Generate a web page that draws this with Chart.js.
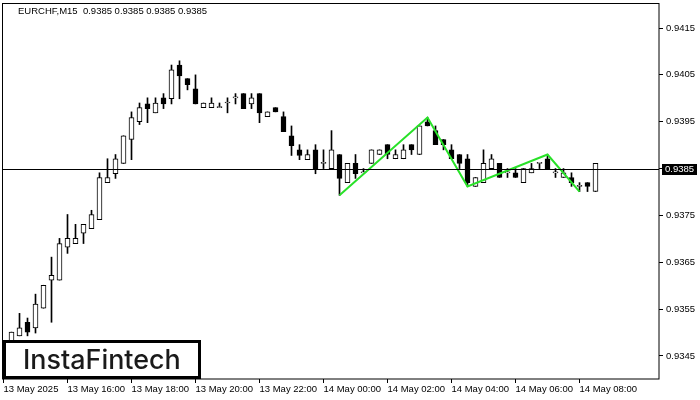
<!DOCTYPE html>
<html>
<head>
<meta charset="utf-8">
<script src="https://cdn.jsdelivr.net/npm/chart.js@4.4.1/dist/chart.umd.min.js"></script>
<style>
  html, body { margin: 0; padding: 0; background: #fff; }
  #wrap { width: 700px; height: 400px; }
</style>
</head>
<body>
<div id="wrap"><canvas id="chart"></canvas></div>
<script>
// EURCHF M15 - bar index 0 = 13 May 14:00, one bar per 15 minutes
var symbol = 'EURCHF,M15';
var lastPrice = 0.9385;
var firstBar = 1; // first visible candle is 14:15

var opens = [
  0.93480, 0.93493, 0.93522, 0.93510, 0.93552, 0.93612, 0.93612, 0.93682, 0.93690, 0.93712,
  0.93722, 0.93741, 0.93820, 0.93839, 0.93861, 0.93912, 0.93950, 0.93988, 0.93969, 0.94001,
  0.93999, 0.94071, 0.94042, 0.94020, 0.93980, 0.93980, 0.93980, 0.93990, 0.94001, 0.94010,
  0.93988, 0.94010, 0.93961, 0.93980, 0.93961, 0.93920, 0.93890, 0.93869, 0.93890, 0.93861,
  0.93850, 0.93880, 0.93820, 0.93861, 0.93841, 0.93861, 0.93880, 0.93901, 0.93871, 0.93871,
  0.93901, 0.93880, 0.93950, 0.93931, 0.93912, 0.93890, 0.93880, 0.93871, 0.93812, 0.93820,
  0.93850, 0.93861, 0.93841, 0.93841, 0.93820, 0.93841, 0.93861, 0.93871, 0.93841, 0.93831,
  0.93831, 0.93812, 0.93820, 0.93801
];
var highs = [
  0.93501, 0.93541, 0.93531, 0.93582, 0.93601, 0.93661, 0.93701, 0.93752, 0.93731, 0.93731,
  0.93761, 0.93841, 0.93871, 0.93880, 0.93920, 0.93971, 0.93990, 0.94001, 0.94001, 0.94010,
  0.94071, 0.94080, 0.94042, 0.94050, 0.93990, 0.94001, 0.93990, 0.94001, 0.94010, 0.94010,
  0.94010, 0.94010, 0.93971, 0.93980, 0.93971, 0.93941, 0.93901, 0.93890, 0.93901, 0.93890,
  0.93931, 0.93880, 0.93861, 0.93880, 0.93850, 0.93890, 0.93890, 0.93901, 0.93890, 0.93901,
  0.93901, 0.93941, 0.93959, 0.93941, 0.93912, 0.93901, 0.93880, 0.93880, 0.93831, 0.93890,
  0.93880, 0.93861, 0.93850, 0.93850, 0.93850, 0.93861, 0.93861, 0.93880, 0.93850, 0.93850,
  0.93841, 0.93820, 0.93820, 0.93861
];
var lows = [
  0.93480, 0.93493, 0.93493, 0.93499, 0.93552, 0.93522, 0.93612, 0.93669, 0.93690, 0.93690,
  0.93722, 0.93741, 0.93820, 0.93829, 0.93861, 0.93869, 0.93944, 0.93948, 0.93969, 0.93978,
  0.93988, 0.93999, 0.94018, 0.93988, 0.93980, 0.93980, 0.93980, 0.93969, 0.93988, 0.93978,
  0.93978, 0.93948, 0.93961, 0.93971, 0.93929, 0.93878, 0.93869, 0.93869, 0.93839, 0.93850,
  0.93850, 0.93793, 0.93820, 0.93829, 0.93841, 0.93861, 0.93880, 0.93871, 0.93871, 0.93871,
  0.93880, 0.93880, 0.93941, 0.93901, 0.93890, 0.93871, 0.93850, 0.93812, 0.93812, 0.93820,
  0.93850, 0.93831, 0.93831, 0.93831, 0.93820, 0.93841, 0.93850, 0.93850, 0.93831, 0.93831,
  0.93812, 0.93801, 0.93801, 0.93801
];
var closes = [
  0.93501, 0.93510, 0.93501, 0.93561, 0.93601, 0.93622, 0.93690, 0.93701, 0.93701, 0.93731,
  0.93752, 0.93831, 0.93831, 0.93871, 0.93920, 0.93959, 0.93980, 0.93978, 0.93990, 0.93988,
  0.94061, 0.94048, 0.94029, 0.93988, 0.93990, 0.93990, 0.93980, 0.93990, 0.94001, 0.93978,
  0.94001, 0.93969, 0.93971, 0.93971, 0.93929, 0.93899, 0.93878, 0.93880, 0.93850, 0.93861,
  0.93890, 0.93829, 0.93861, 0.93839, 0.93841, 0.93890, 0.93890, 0.93880, 0.93880, 0.93890,
  0.93890, 0.93941, 0.93941, 0.93901, 0.93901, 0.93871, 0.93861, 0.93820, 0.93831, 0.93861,
  0.93871, 0.93831, 0.93841, 0.93831, 0.93850, 0.93850, 0.93861, 0.93850, 0.93841, 0.93841,
  0.93820, 0.93812, 0.93812, 0.93861
];

// pattern (green polyline), bar index and price
var patternX = [42, 53, 58, 68, 72];
var patternY = [0.93793, 0.93959, 0.93812, 0.93880, 0.93801];

var priceTicks = [0.9345, 0.9355, 0.9365, 0.9375, 0.9385, 0.9395, 0.9405, 0.9415];
var timeTickIndex = [0, 8, 16, 24, 32, 40, 48, 56, 64, 72];
var timeTickLabels = ['13 May 2025', '13 May 16:00', '13 May 18:00', '13 May 20:00', '13 May 22:00',
  '14 May 00:00', '14 May 02:00', '14 May 04:00', '14 May 06:00', '14 May 08:00'];

var font = { family: "'Liberation Sans', Arial, sans-serif", size: 9.5 };

var wickData = [], bodyData = [], bodyColors = [];
for (var k = 0; k < opens.length; k++) {
  wickData.push({ x: firstBar + k, y: [lows[k], highs[k]] });
  bodyData.push({ x: firstBar + k, y: [opens[k], closes[k]] });
  bodyColors.push(closes[k] >= opens[k] ? '#ffffff' : '#000000');
}
var patternData = patternX.map(function (x, k) { return { x: x, y: patternY[k] }; });

var mtOverlay = {
  id: 'mtOverlay',
  afterDatasetsDraw: function (chart) {
    var ctx = chart.ctx, a = chart.chartArea;
    var y = Math.round(chart.scales.y.getPixelForValue(lastPrice)) + 0.5;
    ctx.save();
    ctx.strokeStyle = '#000';
    ctx.lineWidth = 1;
    ctx.beginPath();
    ctx.moveTo(a.left, y);
    ctx.lineTo(a.right, y);
    ctx.stroke();
    ctx.restore();
  },
  afterDraw: function (chart) {
    var ctx = chart.ctx, a = chart.chartArea;
    ctx.save();
    // frame
    ctx.strokeStyle = '#000';
    ctx.lineWidth = 1;
    ctx.strokeRect(Math.round(a.left) - 0.5, Math.round(a.top) + 0.5,
      Math.round(a.right - a.left) + 0.5, Math.round(a.bottom - a.top) - 0.5);

    // current price label
    var y = Math.round(chart.scales.y.getPixelForValue(lastPrice));
    ctx.fillStyle = '#000';
    ctx.fillRect(a.right + 3, y - 5, 35, 11);
    ctx.fillStyle = '#fff';
    ctx.font = font.size + 'px ' + font.family;
    ctx.textBaseline = 'middle';
    ctx.textAlign = 'left';
    ctx.fillText(lastPrice.toFixed(4), a.right + 6, y + 0.5);

    // title
    ctx.fillStyle = '#000';
    var p = lastPrice.toFixed(4);
    ctx.fillText(symbol + '  ' + [p, p, p, p].join(' '), 18, 11);

    // logo
    ctx.fillStyle = '#fff';
    ctx.fillRect(3, 340, 198, 39);
    ctx.strokeStyle = '#000';
    ctx.lineWidth = 3;
    ctx.strokeRect(4.5, 341.5, 195, 36);
    var txt = 'InstaFintech';
    ctx.font = '500 28px Inter, "Noto Sans", sans-serif';
    var w = ctx.measureText(txt).width;
    var size = 28 * 158 / w;
    ctx.font = '500 ' + size.toFixed(1) + 'px Inter, "Noto Sans", sans-serif';
    ctx.fillStyle = '#1a1a1a';
    ctx.textBaseline = 'alphabetic';
    ctx.fillText(txt, 23, 369);
    ctx.restore();
  }
};

var ctx = document.getElementById('chart').getContext('2d');

var myChart = new Chart(ctx, {
  type: 'bar',
  data: {
    datasets: [{
      label: 'wick',
      data: wickData,
      backgroundColor: '#000',
      borderWidth: 0,
      barThickness: 1,
      grouped: false,
      order: 2
    }, {
      label: 'body',
      data: bodyData,
      backgroundColor: bodyColors,
      borderColor: '#000',
      borderWidth: 1,
      borderSkipped: false,
      barThickness: 5,
      minBarLength: 1,
      grouped: false,
      order: 1
    }, {
      type: 'line',
      label: 'pattern',
      data: patternData,
      borderColor: 'rgb(40, 225, 40)',
      borderWidth: 2,
      pointRadius: 0,
      tension: 0,
      fill: false,
      order: 0
    }]
  },
  options: {
    responsive: true,
    maintainAspectRatio: false,
    animation: false,
    layout: { padding: { left: 3, top: 3, right: 0, bottom: 0 } },
    plugins: { legend: { display: false }, tooltip: { enabled: false } },
    scales: {
      x: {
        type: 'linear',
        position: 'bottom',
        min: -1 / 16,
        max: 82 - 1 / 16,
        offset: false,
        afterBuildTicks: function (axis) {
          axis.ticks = timeTickIndex.map(function (v) { return { value: v }; });
        },
        afterFit: function (axis) {
          axis.height = 21;
          axis.paddingLeft = 0;
          axis.paddingRight = 0;
        },
        ticks: {
          autoSkip: false,
          maxRotation: 0,
          align: 'start',
          padding: 1,
          color: '#000',
          font: font,
          callback: function (v) {
            var n = timeTickIndex.indexOf(v);
            return n >= 0 ? timeTickLabels[n] : '';
          }
        },
        grid: { offset: false, drawOnChartArea: false, drawTicks: true, tickLength: 4, color: '#000' },
        border: { display: false }
      },
      y: {
        type: 'linear',
        position: 'right',
        min: 0.934009,
        max: 0.942034,
        afterBuildTicks: function (axis) {
          axis.ticks = priceTicks.map(function (v) { return { value: v }; });
        },
        afterFit: function (axis) {
          axis.width = 41;
          axis.paddingTop = 0;
          axis.paddingBottom = 0;
        },
        ticks: {
          padding: 3,
          color: '#000',
          font: font,
          callback: function (v) { return v.toFixed(4); }
        },
        grid: { drawOnChartArea: false, drawTicks: true, tickLength: 4, color: '#000' },
        border: { display: false }
      }
    }
  },
  plugins: [mtOverlay]
});
</script>
</body>
</html>
